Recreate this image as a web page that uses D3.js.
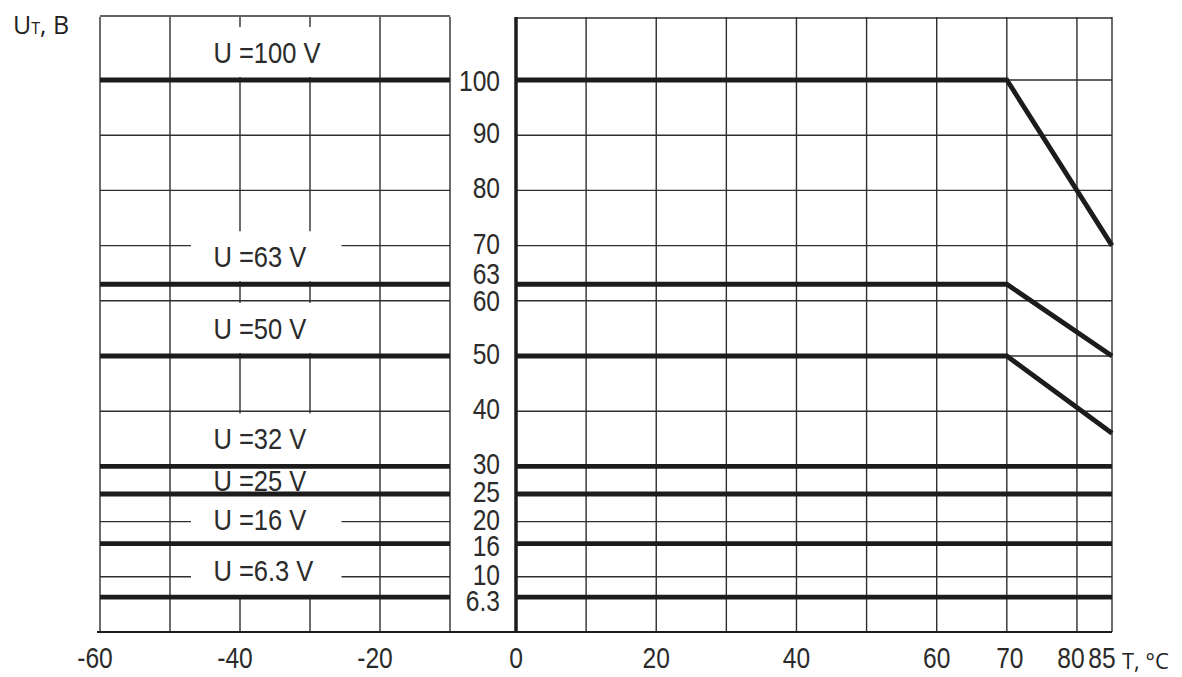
<!DOCTYPE html>
<html>
<head>
<meta charset="utf-8">
<script src="https://d3js.org/d3.v7.min.js"></script>
<style>
body{margin:0;background:#fff}
svg{display:block}
.num{font-family:'Liberation Sans',Arial,sans-serif;fill:#2b2b2b}
.ttl{font-family:'Open Sans',sans-serif;fill:#222}
</style>
</head>
<body>
<div id="chart"></div>
<script>
// rated voltage of each curve, its level up to the knee and at 85 °C
const seriesNames = ["U =100 V", "U =63 V", "U =50 V", "U =32 V", "U =25 V", "U =16 V", "U =6.3 V"];
const levelFlat = [100, 63, 50, 30, 25, 16, 6.3];
const level85 = [70, 50, 36, 30, 25, 16, 6.3];
const kneeTemp = 70;

const yTicks = [100, 90, 80, 70, 63, 60, 50, 40, 30, 25, 20, 16, 10, 6.3];
const yGrid = [10, 20, 30, 40, 50, 60, 70, 80, 90, 100];
const xTicksLeft = [-60, -40, -20];
const xTicksRight = [0, 20, 40, 60, 70, 80, 85];
const xGridLeft = [-60, -50, -40, -30, -20, -10];
const xGridRight = [10, 20, 30, 40, 50, 60, 70, 80, 85];

const W = 1182, H = 677;
const topY = 17;

// broken x axis: two scales with the same step, y labels sit in the gap
var xL = d3.scaleLinear().domain([-60, -10]).range([100, 450]);
var xR = d3.scaleLinear().domain([0, 85]).range([516, 1112]);
var y = d3.scaleLinear().domain([0, 100]).range([632, 80]);

var svg = d3.select("#chart").append("svg").attr("width", W).attr("height", H);

var ink = "#1c1c1c";

// the print uses a narrow face; squeeze Liberation Sans instead
function place(fx, fy, sx) {
    return function(d, i) {
        return "translate(" + fx(d, i) + "," + fy(d, i) + ") scale(" + sx + ",1)";
    };
}

// thin grid
var grid = svg.append("g").attr("stroke", "#2e2e2e").attr("stroke-width", 1.4).attr("fill", "none");
grid.selectAll(".hl").data(yGrid).enter().append("line")
    .attr("x1", xL(-60)).attr("x2", xL(-10))
    .attr("y1", d => y(d)).attr("y2", d => y(d));
grid.selectAll(".hr").data(yGrid).enter().append("line")
    .attr("x1", xR(0)).attr("x2", xR(85))
    .attr("y1", d => y(d)).attr("y2", d => y(d));
grid.selectAll(".vl").data(xGridLeft).enter().append("line")
    .attr("x1", d => xL(d)).attr("x2", d => xL(d))
    .attr("y1", topY).attr("y2", y(0));
grid.selectAll(".vr").data(xGridRight).enter().append("line")
    .attr("x1", d => xR(d)).attr("x2", d => xR(d))
    .attr("y1", topY).attr("y2", y(0));
// top borders
grid.append("line").attr("x1", xL(-60)).attr("x2", xL(-10)).attr("y1", topY - 1).attr("y2", topY - 1);
grid.append("line").attr("x1", xR(0)).attr("x2", xR(85)).attr("y1", topY + 1).attr("y2", topY + 1);

// baseline of each curve label: above its line, inside the band
function labelBase(i) {
    var yy = y(levelFlat[i]);
    var above = i === 0 ? topY : y(levelFlat[i - 1]);
    return Math.max(yy - 17, (yy + above) / 2 + 11);
}

// white boxes cut the grid round the labels like in the print
svg.append("g").selectAll("rect").data(seriesNames).enter().append("rect")
    .attr("x", xL(-47)).attr("width", xL(-25.5) - xL(-47))
    .attr("y", (d, i) => labelBase(i) - 36)
    .attr("height", 50)
    .attr("fill", "#fff");

// bottom line and the vertical axis at 0
svg.append("line").attr("x1", xL(-60) - 3).attr("x2", xR(85))
    .attr("y1", y(0)).attr("y2", y(0))
    .attr("stroke", ink).attr("stroke-width", 2.2);
svg.append("line").attr("x1", xR(0)).attr("x2", xR(0))
    .attr("y1", topY).attr("y2", y(0))
    .attr("stroke", ink).attr("stroke-width", 3.5);

// curves
var line = d3.line().x(d => d[0]).y(d => y(d[1]));
var curves = svg.append("g").attr("fill", "none").attr("stroke", ink)
    .attr("stroke-width", 4.8).attr("stroke-linejoin", "miter");
curves.selectAll(".cl").data(levelFlat).enter().append("path")
    .attr("d", d => line([[xL(-60), d], [xL(-10), d]]));
curves.selectAll(".cr").data(levelFlat).enter().append("path")
    .attr("d", (d, i) => line([[xR(0), d], [xR(kneeTemp), d], [xR(85), level85[i]]]));

// curve labels
svg.append("g").selectAll("text").data(seriesNames).enter().append("text")
    .attr("class", "num")
    .attr("transform", place(() => xL(-43.8), (d, i) => labelBase(i), 0.88))
    .attr("font-size", 29)
    .text(d => d);

// y tick labels, a few nudged so they do not collide
var yNudge = {63: -8, 60: 2, 16: 4, 6.3: 6, 100: 3};
svg.append("g").selectAll("text").data(yTicks).enter().append("text")
    .attr("class", "num")
    .attr("transform", place(() => xR(0) - 16, d => y(d) + 8 + (yNudge[d] || 0), 0.82))
    .attr("text-anchor", "end")
    .attr("font-size", 30)
    .text(d => d);

// x tick labels
var xNudge = {70: 3, 80: -6, 85: -10};
svg.append("g").selectAll("text").data(xTicksLeft).enter().append("text")
    .attr("class", "num")
    .attr("transform", place(d => xL(d) - 5, () => 668, 0.82))
    .attr("text-anchor", "middle")
    .attr("font-size", 30)
    .text(d => d);
svg.append("g").selectAll("text").data(xTicksRight).enter().append("text")
    .attr("class", "num")
    .attr("transform", place(d => xR(d) + (xNudge[d] || 0), () => 668, 0.82))
    .attr("text-anchor", "middle")
    .attr("font-size", 30)
    .text(d => d);

// axis titles
var ut = svg.append("text").attr("class", "ttl").attr("x", 13).attr("y", 34).attr("font-size", 25);
ut.append("tspan").text("U");
ut.append("tspan").attr("font-size", 16).text("T");
ut.append("tspan").text(", B");

svg.append("text").attr("class", "ttl").attr("x", 1122).attr("y", 669)
    .attr("font-size", 22).text("T, °C");
</script>
</body>
</html>
